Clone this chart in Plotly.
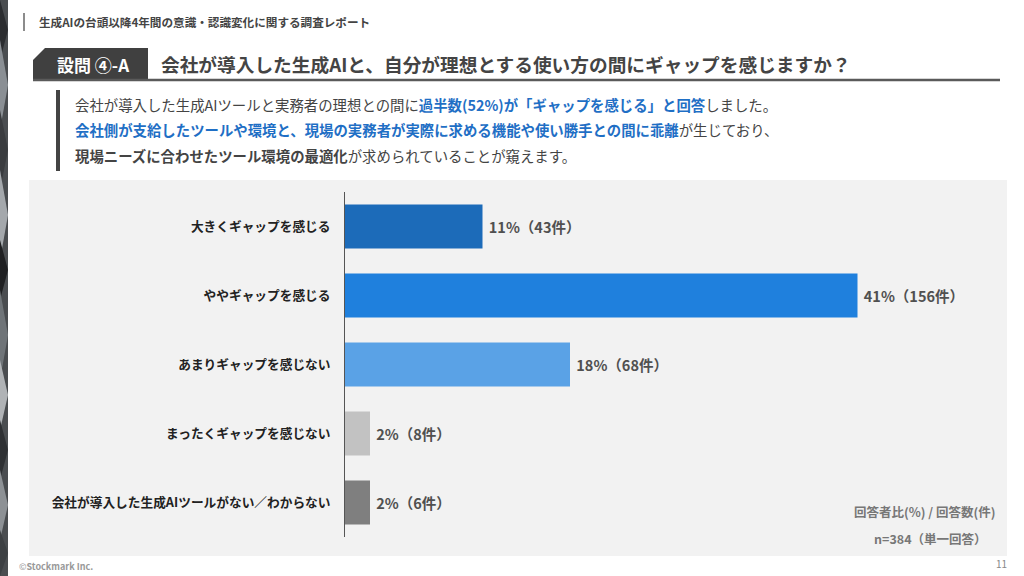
import plotly.graph_objects as go

W, H = 1024, 576
FONT = "Noto Sans CJK JP"

# data
categories = ['大きくギャップを感じる', 'ややギャップを感じる', 'あまりギャップを感じない',
              'まったくギャップを感じない', '会社が導入した生成AIツールがない／わからない']
percents = [11, 41, 18, 2, 2]
counts = [43, 156, 68, 8, 6]
bar_colors = ['#1c6bb9', '#1f80dd', '#5aa2e6', '#c2c2c2', '#7f7f7f']

header_text = '生成AIの台頭以降4年間の意識・認識変化に関する調査レポート'
question_tag = '設問 ④-A'
question_text = '会社が導入した生成AIと、自分が理想とする使い方の間にギャップを感じますか？'
note_lines = ['回答者比(%) / 回答数(件)', 'n=384（単一回答）']

BLUE = '#1f6fc5'


def px(x):
    return x / W


def py(y):
    return 1 - y / H


# nbsp in front pushes the label a little further off the bar end
labels = [f'\u00a0{p}%（{c}件）' for p, c in zip(percents, counts)]

fig = go.Figure()
fig.add_trace(go.Bar(
    y=categories, x=percents, orientation='h',
    marker=dict(color=bar_colors, line=dict(width=0)),
    text=labels, textposition='outside', cliponaxis=False, constraintext='none',
    textfont=dict(family=FONT, size=14.5, color='#505050', weight='bold'),
    hoverinfo='skip', width=0.64,
))

shapes = []
# left decorative strip
shapes.append(dict(type='rect', xref='paper', yref='paper', x0=0, x1=px(8), y0=0, y1=1,
                   fillcolor='#4a4d50', line=dict(width=0)))
facets = [(0, 60, '#2b2d30'), (40, 130, '#8a8f94'), (110, 190, '#3a3c3f'), (170, 260, '#a4a8ac'),
          (240, 300, '#1f2022'), (290, 380, '#6f7478'), (360, 430, '#b0b3b6'), (420, 480, '#2e3033'),
          (470, 540, '#8d9195'), (530, 576, '#3d4043')]
for y0, y1, c in facets:
    shapes.append(dict(type='path', xref='paper', yref='paper',
                       path=f'M 0 {py(y0)} L {px(8)} {py((y0 + y1) / 2)} L 0 {py(y1)} Z',
                       fillcolor=c, line=dict(width=0)))
# header mark
shapes.append(dict(type='line', xref='paper', yref='paper', x0=px(24), x1=px(24), y0=py(13), y1=py(31),
                   line=dict(color='#666', width=1.5)))
# question tag box with cut corner
shapes.append(dict(type='path', xref='paper', yref='paper',
                   path=f'M {px(33)} {py(60)} L {px(45)} {py(48)} L {px(148)} {py(48)} '
                        f'L {px(148)} {py(81)} L {px(33)} {py(81)} Z',
                   fillcolor='#404040', line=dict(width=0)))
shapes.append(dict(type='line', xref='paper', yref='paper', x0=px(33), x1=px(1000), y0=py(80), y1=py(80),
                   line=dict(color='#5a5a5a', width=2.5)))
# description bar
shapes.append(dict(type='rect', xref='paper', yref='paper', x0=px(56), x1=px(60), y0=py(171), y1=py(90),
                   fillcolor='#444', line=dict(width=0)))
# chart panel
shapes.append(dict(type='rect', xref='paper', yref='paper', x0=px(29), x1=px(1007), y0=py(556), y1=py(180),
                   fillcolor='#f2f2f2', line=dict(width=0), layer='below'))

ann = []
ann.append(dict(text=f'<b>{header_text}</b>', x=px(37), y=py(22), xanchor='left', yanchor='middle',
                font=dict(family=FONT, size=11.6, color='#444')))
ann.append(dict(text=f'<b>{question_tag}</b>', x=px(93), y=py(64), xanchor='center', yanchor='middle',
                font=dict(family=FONT, size=17, color='white')))
ann.append(dict(text=f'<b>{question_text}</b>', x=px(159), y=py(63), xanchor='left', yanchor='middle',
                font=dict(family=FONT, size=18.7, color='#444')))

desc_lines = [
    '会社が導入した生成AIツールと実務者の理想との間に'
    f'<span style="color:{BLUE}"><b>過半数(52%)が「ギャップを感じる」と回答</b></span>しました。',
    f'<span style="color:{BLUE}"><b>会社側が支給したツールや環境と、現場の実務者が実際に求める機能や使い勝手との間に乖離</b></span>'
    'が生じており、',
    '<b>現場ニーズに合わせたツール環境の最適化</b>が求められていることが窺えます。',
]
for i, line in enumerate(desc_lines):
    ann.append(dict(text=line, x=px(73), y=py(104 + 25.5 * i), xanchor='left', yanchor='middle',
                    font=dict(family=FONT, size=14.4, color='#444')))

for i, line in enumerate(note_lines):
    ann.append(dict(text=f'<b>{line}</b>', x=px(997 - 8 * i), y=py(511 + 27 * i), xanchor='right',
                    yanchor='middle', font=dict(family=FONT, size=12.5, color='#777')))

ann.append(dict(text='©<b>Stockmark Inc.</b>', x=px(17), y=py(566), xanchor='left', yanchor='middle',
                font=dict(family=FONT, size=9, color='#999')))
ann.append(dict(text='11', x=px(1009), y=py(563), xanchor='right', yanchor='middle',
                font=dict(family=FONT, size=10, color='#888')))

for a in ann:
    a.update(xref='paper', yref='paper', showarrow=False)

fig.update_layout(
    width=W, height=H, margin=dict(l=0, r=0, t=0, b=0),
    paper_bgcolor='white', plot_bgcolor='rgba(0,0,0,0)',
    showlegend=False, shapes=shapes, annotations=ann,
    font=dict(family=FONT),
    xaxis=dict(domain=[px(345), px(1007)], range=[0, 662 / 12.5], visible=False, fixedrange=True),
    yaxis=dict(domain=[py(537), py(192)], range=[4.5, -0.5], type='category',
               showline=True, linecolor='#555', linewidth=1, showgrid=False, zeroline=False,
               ticks='', ticklabelstandoff=11, fixedrange=True,
               tickfont=dict(family=FONT, size=12.7, color='#222', weight='bold')),
)

# page body has a default 8px margin; drop it so the figure fills the window exactly
fig.write_html('out.html', config={'displayModeBar': False},
               post_script="document.body.style.margin='0';document.body.style.overflow='hidden';")
